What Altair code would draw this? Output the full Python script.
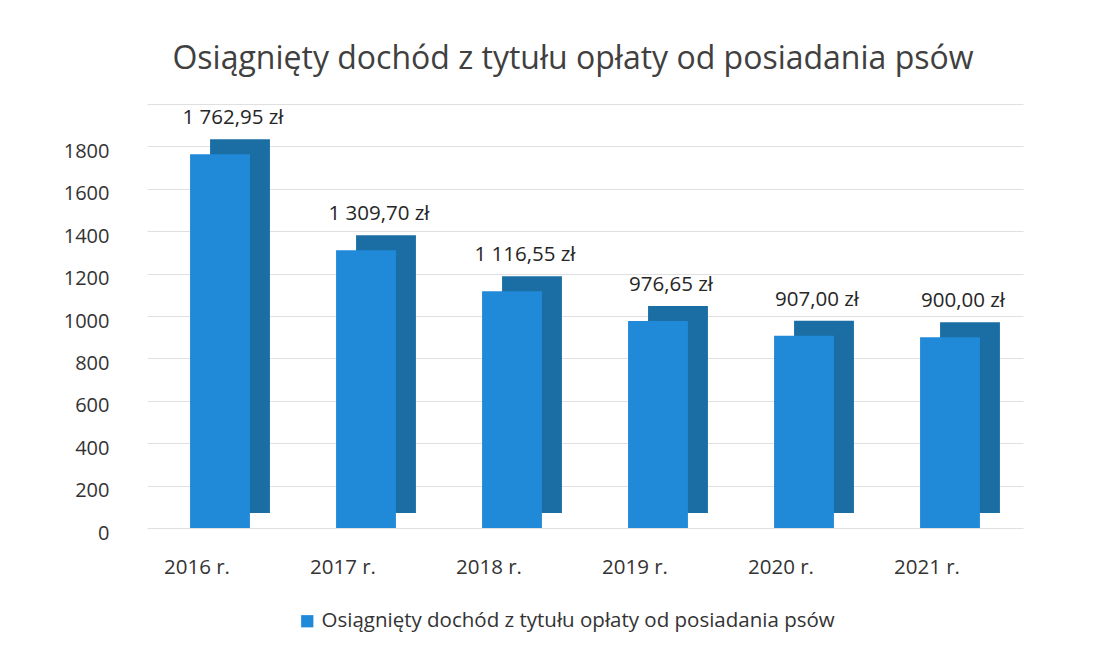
import altair as alt
import pandas as pd

years = ["2016 r.", "2017 r.", "2018 r.", "2019 r.", "2020 r.", "2021 r."]
values = [1762.95, 1309.70, 1116.55, 976.65, 907.00, 900.00]
series_name = "Osiągnięty dochód z tytułu opłaty od posiadania psów"
y_ticks = [0, 200, 400, 600, 800, 1000, 1200, 1400, 1600, 1800, 2000]


def pl_money(v):
    s = f"{v:,.2f}"
    return s.replace(",", " ").replace(".", ",") + " zł"


df = pd.DataFrame({
    "rok": years,
    "wartosc": values,
    "etykieta": [pl_money(v) for v in values],
    "seria": [series_name] * len(years),
})

FRONT = "#218ad8"
SIDE = "#1a6ea3"
FONT = "Open Sans"

x_enc = alt.X(
    "rok:N",
    sort=years,
    title=None,
    scale=alt.Scale(paddingInner=0.59, paddingOuter=0.295),
    axis=alt.Axis(
        labelAngle=0, labelFontSize=20.5, labelColor="#333333", labelFont=FONT,
        ticks=False, domain=False, labelPadding=29, labelOffset=-23,
        labelBaseline="top", grid=False,
    ),
)
y_enc = alt.Y(
    "wartosc:Q",
    title=None,
    scale=alt.Scale(domain=[0, 2000], nice=False),
    axis=alt.Axis(
        values=y_ticks, labelFontSize=20, labelColor="#333333", labelFont=FONT,
        ticks=False, domain=False, labelPadding=38, labelOffset=5,
        gridColor="#e0e0e0", gridWidth=1,
        labelExpr="datum.value == 2000 ? '' : datum.label",
        format="d",
    ),
)

side = alt.Chart(df).mark_bar(color=SIDE, xOffset=20, yOffset=-15).encode(
    x=x_enc, y=y_enc
)

front = alt.Chart(df).mark_bar().encode(
    x=x_enc,
    y=y_enc,
    color=alt.Color(
        "seria:N",
        scale=alt.Scale(range=[FRONT]),
        legend=alt.Legend(
            title=None, orient="none", legendX=150, legendY=507,
            symbolType="square", symbolSize=150, labelFontSize=20.5,
            labelFont=FONT, labelColor="#333333", labelLimit=800,
            symbolStrokeWidth=0,
        ),
    ),
)

labels = alt.Chart(df).mark_text(
    dx=13, dy=-36, fontSize=20.5, font=FONT, color="#262626", baseline="middle"
).encode(x=x_enc, y=y_enc, text="etykieta:N")

chart = alt.layer(side, front, labels).properties(
    width=876,
    height=424,
    background="white",
    autosize=alt.AutoSizeParams(type="none"),
    padding={"left": 139, "top": 96, "right": 75, "bottom": 121},
    title=alt.TitleParams(
        series_name, fontSize=32, font=FONT, color="#404040",
        fontWeight="normal", anchor="middle", offset=28, dx=-12,
    ),
).configure_view(strokeWidth=0, stroke="transparent")

chart.save("out.html", embed_options={"renderer": "svg", "actions": False})
